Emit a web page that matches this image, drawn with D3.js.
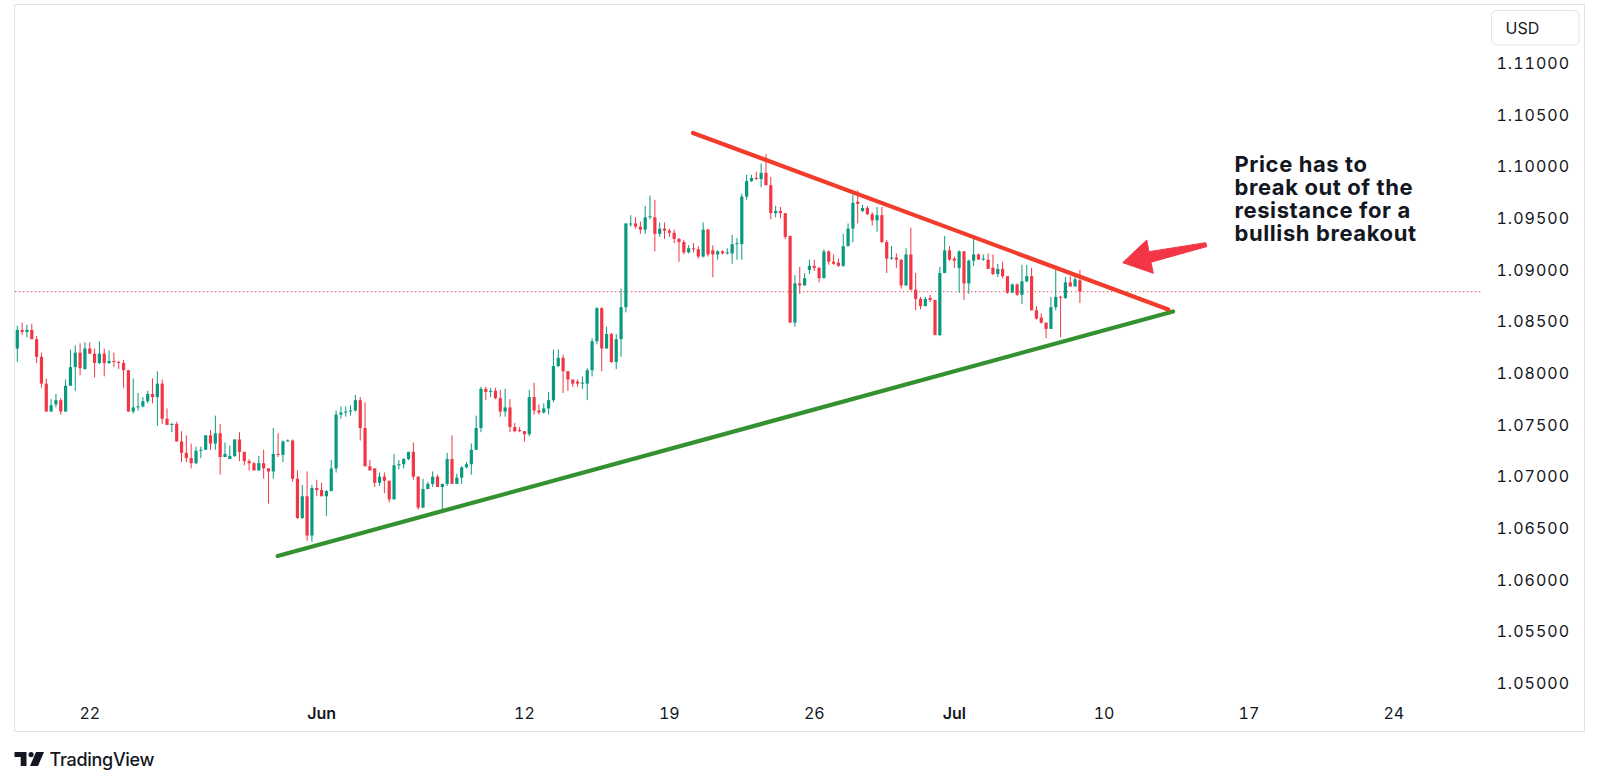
<!DOCTYPE html>
<html><head><meta charset="utf-8">
<script src="https://cdn.jsdelivr.net/npm/d3@7"></script>
<style>
html,body{margin:0;padding:0;background:#fff;}
svg{display:block;font-family:Inter,"Noto Sans",sans-serif;}
</style>
</head><body>
<svg id="c" width="1600" height="784"></svg>
<script>
// EURUSD 4H candles (index = bar number, 6 bars per trading day)
const opens = [1.0824,1.0842,1.0840,1.0842,1.0833,1.0816,1.0790,1.0763,1.0770,1.0774,
1.0763,1.0788,1.0806,1.0820,1.0804,1.0824,1.0819,1.0810,1.0819,1.0810,
1.0812,1.0811,1.0810,1.0803,1.0763,1.0767,1.0768,1.0773,1.0780,1.0777,
1.0790,1.0756,1.0750,1.0751,1.0734,1.0723,1.0718,1.0713,1.0725,1.0726,
1.0740,1.0732,1.0742,1.0719,1.0717,1.0720,1.0736,1.0724,1.0715,1.0713,
1.0706,1.0713,1.0708,1.0705,1.0722,1.0721,1.0734,1.0735,1.0698,1.0660,
1.0681,1.0643,1.0689,1.0687,1.0681,1.0686,1.0708,1.0760,1.0762,1.0763,
1.0764,1.0774,1.0747,1.0710,1.0708,1.0694,1.0700,1.0696,1.0678,1.0711,
1.0712,1.0717,1.0724,1.0700,1.0670,1.0688,1.0693,1.0700,1.0690,1.0693,
1.0717,1.0693,1.0699,1.0709,1.0712,1.0726,1.0747,1.0785,1.0782,1.0783,
1.0776,1.0763,1.0767,1.0748,1.0745,1.0744,1.0741,1.0777,1.0764,1.0762,
1.0766,1.0774,1.0807,1.0815,1.0802,1.0794,1.0792,1.0790,1.0790,1.0803,
1.0831,1.0863,1.0824,1.0838,1.0811,1.0833,1.0864,1.0944,1.0945,1.0942,
1.0939,1.0951,1.0951,1.0935,1.0940,1.0938,1.0936,1.0930,1.0927,1.0917,
1.0921,1.0920,1.0913,1.0939,1.0919,1.0915,1.0918,1.0916,1.0916,1.0925,
1.0925,1.0971,1.0986,1.0989,1.0988,1.0994,1.0982,1.0955,1.0957,1.0955,
1.0933,1.0849,1.0887,1.0885,1.0900,1.0904,1.0902,1.0892,1.0918,1.0908,
1.0907,1.0904,1.0923,1.0940,1.0966,1.0957,1.0960,1.0954,1.0948,1.0953,
1.0927,1.0911,1.0912,1.0910,1.0885,1.0915,1.0881,1.0872,1.0865,1.0873,
1.0871,1.0837,1.0897,1.0919,1.0911,1.0902,1.0918,1.0887,1.0909,1.0915,
1.0910,1.0910,1.0902,1.0896,1.0901,1.0894,1.0878,1.0886,1.0876,1.0889,
1.0894,1.0861,1.0854,1.0849,1.0843,1.0864,1.0874,1.0873,1.0888,1.0884,
1.0890];
const highs = [1.0846,1.0849,1.0847,1.0848,1.0836,1.0820,1.0795,1.0775,1.0780,1.0776,
1.0794,1.0823,1.0827,1.0829,1.0830,1.0830,1.0824,1.0831,1.0824,1.0822,
1.0820,1.0812,1.0813,1.0803,1.0795,1.0781,1.0777,1.0783,1.0795,1.0802,
1.0794,1.0766,1.0752,1.0753,1.0744,1.0740,1.0732,1.0729,1.0729,1.0740,
1.0745,1.0759,1.0751,1.0733,1.0730,1.0736,1.0743,1.0724,1.0717,1.0714,
1.0720,1.0726,1.0708,1.0747,1.0742,1.0735,1.0736,1.0736,1.0706,1.0692,
1.0705,1.0692,1.0697,1.0694,1.0687,1.0716,1.0764,1.0768,1.0768,1.0769,
1.0779,1.0777,1.0772,1.0716,1.0708,1.0704,1.0704,1.0696,1.0722,1.0716,
1.0718,1.0724,1.0733,1.0700,1.0698,1.0695,1.0705,1.0702,1.0693,1.0723,
1.0740,1.0703,1.0710,1.0714,1.0732,1.0759,1.0787,1.0787,1.0786,1.0786,
1.0784,1.0785,1.0775,1.0752,1.0748,1.0744,1.0784,1.0791,1.0770,1.0771,
1.0782,1.0823,1.0823,1.0818,1.0802,1.0794,1.0794,1.0797,1.0805,1.0834,
1.0864,1.0864,1.0845,1.0839,1.0838,1.0882,1.0945,1.0953,1.0951,1.0947,
1.0962,1.0972,1.0968,1.0946,1.0946,1.0940,1.0939,1.0931,1.0929,1.0924,
1.0926,1.0923,1.0946,1.0940,1.0924,1.0919,1.0919,1.0921,1.0934,1.0931,
1.0974,1.0992,1.0992,1.0995,1.1003,1.1012,1.0990,1.0962,1.0961,1.0955,
1.0933,1.0895,1.0903,1.0897,1.0910,1.0910,1.0903,1.0920,1.0919,1.0915,
1.0911,1.0935,1.0945,1.0973,1.0977,1.0963,1.0962,1.0956,1.0961,1.0961,
1.0929,1.0923,1.0916,1.0910,1.0921,1.0941,1.0897,1.0874,1.0874,1.0876,
1.0871,1.0903,1.0933,1.0923,1.0913,1.0919,1.0918,1.0910,1.0934,1.0916,
1.0915,1.0916,1.0915,1.0906,1.0908,1.0894,1.0887,1.0887,1.0905,1.0905,
1.0902,1.0865,1.0858,1.0849,1.0874,1.0900,1.0875,1.0893,1.0894,1.0895,
1.0900];
const lows = [1.0811,1.0837,1.0835,1.0833,1.0810,1.0786,1.0763,1.0763,1.0767,1.0760,
1.0763,1.0788,1.0783,1.0798,1.0804,1.0819,1.0796,1.0809,1.0797,1.0809,
1.0806,1.0804,1.0786,1.0763,1.0761,1.0764,1.0767,1.0771,1.0771,1.0749,
1.0751,1.0750,1.0743,1.0734,1.0714,1.0714,1.0708,1.0712,1.0718,1.0726,
1.0726,1.0726,1.0702,1.0719,1.0717,1.0719,1.0715,1.0711,1.0706,1.0706,
1.0706,1.0698,1.0674,1.0698,1.0719,1.0714,1.0734,1.0695,1.0659,1.0659,
1.0638,1.0637,1.0681,1.0681,1.0662,1.0686,1.0704,1.0756,1.0758,1.0759,
1.0763,1.0735,1.0710,1.0706,1.0690,1.0691,1.0684,1.0675,1.0678,1.0707,
1.0708,1.0716,1.0697,1.0668,1.0670,1.0688,1.0690,1.0690,1.0668,1.0691,
1.0693,1.0693,1.0693,1.0708,1.0702,1.0726,1.0743,1.0774,1.0777,1.0775,
1.0758,1.0758,1.0743,1.0743,1.0743,1.0734,1.0739,1.0760,1.0760,1.0761,
1.0760,1.0772,1.0806,1.0781,1.0783,1.0787,1.0787,1.0785,1.0774,1.0797,
1.0828,1.0802,1.0824,1.0810,1.0804,1.0816,1.0859,1.0942,1.0940,1.0935,
1.0935,1.0949,1.0918,1.0932,1.0930,1.0932,1.0926,1.0908,1.0915,1.0916,
1.0917,1.0911,1.0912,1.0913,1.0893,1.0910,1.0915,1.0915,1.0906,1.0910,
1.0910,1.0968,1.0985,1.0987,1.0980,1.0982,1.0949,1.0951,1.0950,1.0930,
1.0849,1.0845,1.0877,1.0885,1.0896,1.0899,1.0888,1.0892,1.0905,1.0905,
1.0903,1.0903,1.0923,1.0927,1.0945,1.0956,1.0953,1.0943,1.0937,1.0926,
1.0897,1.0910,1.0902,1.0882,1.0885,1.0880,1.0861,1.0862,1.0865,1.0869,
1.0837,1.0836,1.0897,1.0909,1.0902,1.0878,1.0871,1.0877,1.0904,1.0910,
1.0909,1.0901,1.0895,1.0893,1.0892,1.0877,1.0878,1.0875,1.0867,1.0888,
1.0861,1.0852,1.0848,1.0834,1.0843,1.0861,1.0835,1.0872,1.0884,1.0884,
1.0868];
const closes = [1.0842,1.0840,1.0842,1.0833,1.0816,1.0790,1.0763,1.0769,1.0774,1.0763,
1.0788,1.0806,1.0820,1.0805,1.0824,1.0819,1.0810,1.0819,1.0810,1.0812,
1.0811,1.0810,1.0803,1.0763,1.0767,1.0768,1.0773,1.0780,1.0777,1.0790,
1.0756,1.0750,1.0751,1.0734,1.0723,1.0718,1.0713,1.0725,1.0726,1.0740,
1.0732,1.0742,1.0719,1.0722,1.0720,1.0736,1.0724,1.0715,1.0713,1.0706,
1.0713,1.0708,1.0705,1.0722,1.0721,1.0734,1.0735,1.0698,1.0660,1.0681,
1.0643,1.0689,1.0687,1.0681,1.0686,1.0708,1.0760,1.0762,1.0763,1.0764,
1.0774,1.0747,1.0710,1.0706,1.0694,1.0700,1.0696,1.0678,1.0711,1.0712,
1.0717,1.0724,1.0700,1.0670,1.0688,1.0693,1.0700,1.0690,1.0693,1.0717,
1.0693,1.0699,1.0709,1.0712,1.0726,1.0747,1.0785,1.0782,1.0783,1.0776,
1.0763,1.0767,1.0748,1.0744,1.0744,1.0741,1.0777,1.0764,1.0762,1.0766,
1.0774,1.0807,1.0815,1.0802,1.0794,1.0790,1.0790,1.0791,1.0803,1.0831,
1.0863,1.0824,1.0838,1.0811,1.0833,1.0864,1.0945,1.0945,1.0942,1.0939,
1.0951,1.0952,1.0935,1.0940,1.0938,1.0936,1.0930,1.0927,1.0917,1.0921,
1.0920,1.0913,1.0939,1.0915,1.0915,1.0918,1.0916,1.0917,1.0925,1.0926,
1.0971,1.0986,1.0989,1.0988,1.0994,1.0982,1.0955,1.0957,1.0955,1.0932,
1.0849,1.0887,1.0885,1.0892,1.0904,1.0902,1.0892,1.0918,1.0908,1.0906,
1.0904,1.0923,1.0940,1.0965,1.0964,1.0960,1.0954,1.0948,1.0953,1.0927,
1.0911,1.0912,1.0910,1.0885,1.0915,1.0881,1.0872,1.0865,1.0872,1.0871,
1.0837,1.0897,1.0919,1.0910,1.0909,1.0918,1.0887,1.0909,1.0915,1.0910,
1.0911,1.0901,1.0896,1.0901,1.0894,1.0878,1.0886,1.0876,1.0889,1.0894,
1.0861,1.0853,1.0849,1.0843,1.0864,1.0874,1.0873,1.0888,1.0884,1.0891,
1.0879];

// axis labels
const priceTicks = [1.05,1.055,1.06,1.065,1.07,1.075,1.08,1.085,1.09,1.095,1.10,1.105,1.11];
const timeTickBars = [15,63,105,135,165,194,225,255,285];
const timeTickLabels = ["22","Jun","12","19","26","Jul","10","17","24"];
const timeTickBold = [false,true,false,false,false,true,false,false,false];

// drawings (bar index, price)
const resistanceBars = [139.9, 238.3];
const resistancePrices = [1.10326, 1.08618];
const supportBars = [53.9, 239.3];
const supportPrices = [1.06232, 1.08598];
const arrowBars = [228.86, 233.83, 234.3, 246.05, 246.26, 234.7, 235.2];
const arrowPrices = [1.09071, 1.09290, 1.09177, 1.09264, 1.09226, 1.09075, 1.08968];
const noteLines = ["Price has to","break out of the","resistance for a","bullish breakout"];
const noteBar = 252.0, notePrice = 1.09952;

const UP = "#089981", DOWN = "#f23645", TXT = "#131722", GRID = "#e0e3eb";

const svg = d3.select("#c");
const x = d3.scaleLinear().domain([0, 220]).range([17.3, 1079.9]);
const y = d3.scaleLinear().domain([1.05, 1.11]).range([683.3, 63.3]);

// frame
svg.append("rect").attr("x",14.5).attr("y",4.5).attr("width",1570).attr("height",727)
  .attr("fill","#fff").attr("stroke",GRID).attr("stroke-width",1);

svg.append("defs").append("clipPath").attr("id","plot")
  .append("rect").attr("x",15).attr("y",5).attr("width",1468).attr("height",692);

const plot = svg.append("g").attr("clip-path","url(#plot)");

const bars = d3.range(opens.length).map(i => ({i, o:opens[i], h:highs[i], l:lows[i], c:closes[i]}));
const col = d => d.c >= d.o ? UP : DOWN;

// price line (last close)
const last = closes[closes.length-1];
plot.append("line").attr("x1",15).attr("x2",1483)
  .attr("y1",y(last)).attr("y2",y(last))
  .attr("stroke",DOWN).attr("stroke-width",1).attr("stroke-dasharray","1.3,2.7");

// wicks
plot.append("g").selectAll("line").data(bars).join("line")
  .attr("x1",d=>x(d.i)).attr("x2",d=>x(d.i))
  .attr("y1",d=>y(d.h)).attr("y2",d=>y(d.l))
  .attr("stroke",col).attr("stroke-width",1);
// bodies
plot.append("g").selectAll("rect").data(bars).join("rect")
  .attr("x",d=>x(d.i)-1.6).attr("width",3.2)
  .attr("y",d=>y(Math.max(d.o,d.c)))
  .attr("height",d=>Math.max(1, Math.abs(y(d.o)-y(d.c))))
  .attr("fill",col);

// trend lines
const tl = d3.line().x(d=>x(d[0])).y(d=>y(d[1]));
plot.append("path").attr("d", tl(supportBars.map((b,k)=>[b,supportPrices[k]])))
  .attr("fill","none").attr("stroke","#33912f").attr("stroke-width",4.2).attr("stroke-linecap","round");
plot.append("path").attr("d", tl(resistanceBars.map((b,k)=>[b,resistancePrices[k]])))
  .attr("fill","none").attr("stroke","#f23c2c").attr("stroke-width",4.2).attr("stroke-linecap","round");

// arrow
plot.append("path").attr("d", tl(arrowBars.map((b,k)=>[b,arrowPrices[k]])) + "Z")
  .attr("fill","#f23645").attr("stroke","#f23645").attr("stroke-width",1).attr("stroke-linejoin","round");

// note
const note = plot.append("text").attr("x", x(noteBar)).attr("y", y(notePrice))
  .attr("fill", TXT).attr("font-size", 22).attr("font-weight", 700)
  .style("letter-spacing","0.6px");
note.selectAll("tspan").data(noteLines).join("tspan")
  .attr("x", x(noteBar)).attr("dy",(d,k)=>k===0?0:23.3).text(d=>d);

// price axis labels
svg.append("g").selectAll("text").data(priceTicks).join("text")
  .attr("x",1570).attr("y",d=>y(d)).attr("dy","0.36em").attr("text-anchor","end")
  .attr("fill",TXT).attr("font-size",16).style("letter-spacing","1px")
  .style("font-variant-numeric","tabular-nums")
  .text(d=>d3.format(".5f")(d));

// USD box
svg.append("rect").attr("x",1491.5).attr("y",10.5).attr("width",87.5).attr("height",34.5)
  .attr("rx",5).attr("fill","#fff").attr("stroke",GRID);
svg.append("text").attr("x",1505.5).attr("y",27.8).attr("dy","0.36em")
  .attr("fill",TXT).attr("font-size",16).text("USD");

// time axis labels
svg.append("g").selectAll("text").data(timeTickBars).join("text")
  .attr("x",d=>x(d)).attr("y",713.3).attr("dy","0.36em").attr("text-anchor","middle")
  .attr("fill",TXT).attr("font-size",16)
  .attr("font-weight",(d,k)=>timeTickBold[k]?600:400)
  .style("font-variant-numeric","tabular-nums")
  .text((d,k)=>timeTickLabels[k]);

// TradingView logo
const logo = svg.append("g").attr("transform","translate(14.5,752)").attr("fill",TXT);
logo.append("path").attr("d","M0,0H12V14H6.2V5H0Z");
logo.append("circle").attr("cx",16.6).attr("cy",2.6).attr("r",2.6);
logo.append("path").attr("d","M21.5,0H29.5L23.5,14H15.5Z");
svg.append("text").attr("x",49.5).attr("y",766).attr("fill",TXT)
  .attr("font-size",18).attr("font-weight",500).style("letter-spacing","-0.3px").text("TradingView");
</script>
</body></html>
